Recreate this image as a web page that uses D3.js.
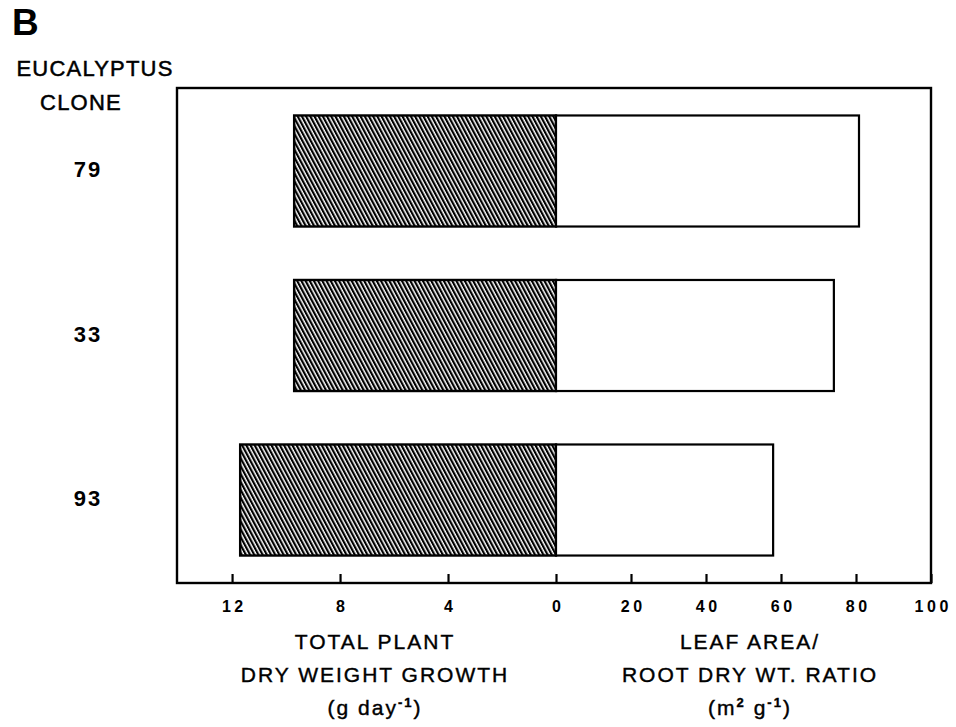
<!DOCTYPE html>
<html><head><meta charset="utf-8">
<script src="https://cdn.jsdelivr.net/npm/d3@7"></script>
<style>
body{margin:0;background:#fff;}
text{font-family:"Liberation Sans",Arial,sans-serif;fill:#000;}
</style></head>
<body><svg id="c" width="956" height="727"></svg>
<script>
const clones = ["79", "33", "93"];
const growth = [9.7, 9.7, 11.7];        // g day-1 (left, hatched)
const ratio = [80.8, 74.1, 57.9];       // m2 g-1 (right, open)
const leftTicks = [12, 8, 4, 0];
const rightTicks = [20, 40, 60, 80, 100];

const svg = d3.select("#c");
const yTop = 88, yBottom = 583;
const xL = d3.scaleLinear().domain([0, 14.04]).range([556, 177]);
const xR = d3.scaleLinear().domain([0, 100]).range([556, 931]);
const y = d3.scaleBand().domain(clones).range([yTop, yBottom]).paddingInner(0.325).paddingOuter(0.167);

const defs = svg.append("defs");
const pat = defs.append("pattern").attr("id", "hatch").attr("patternUnits", "userSpaceOnUse")
  .attr("width", 3.7).attr("height", 10).attr("patternTransform", "rotate(-28)");
pat.append("rect").attr("width", 3.7).attr("height", 10).attr("fill", "#fff");
pat.append("rect").attr("x", 0).attr("width", 2.2).attr("height", 10).attr("fill", "#000");

// bars
const g = svg.append("g");
g.selectAll(".lb").data(clones).join("rect")
  .attr("x", (d, i) => xL(growth[i])).attr("y", d => y(d))
  .attr("width", (d, i) => xL(0) - xL(growth[i])).attr("height", y.bandwidth())
  .attr("fill", "url(#hatch)").attr("stroke", "#000").attr("stroke-width", 2.4);
g.selectAll(".rb").data(clones).join("rect")
  .attr("x", xR(0)).attr("y", d => y(d))
  .attr("width", (d, i) => xR(ratio[i]) - xR(0)).attr("height", y.bandwidth())
  .attr("fill", "#fff").attr("stroke", "#000").attr("stroke-width", 2.2);

// frame
svg.append("rect").attr("x", xL(14.04)).attr("y", yTop)
  .attr("width", xR(100) - xL(14.04)).attr("height", yBottom - yTop)
  .attr("fill", "none").attr("stroke", "#000").attr("stroke-width", 2.4);

// axes
function styleAxis(sel) {
  sel.select(".domain").remove();
  sel.selectAll(".tick line").attr("stroke", "#000").attr("stroke-width", 2.2);
  sel.selectAll(".tick text").style("font-size", "16px").style("font-weight", "bold")
    .style("letter-spacing", "3.5px").attr("dx", "1.7px").attr("fill", "#000");
}
svg.append("g").attr("transform", `translate(0,${yBottom})`)
  .call(d3.axisBottom(xL).tickValues(leftTicks).tickFormat(d3.format("d")).tickSize(-9).tickPadding(18))
  .call(styleAxis);
svg.append("g").attr("transform", `translate(0,${yBottom})`)
  .call(d3.axisBottom(xR).tickValues(rightTicks).tickFormat(d3.format("d")).tickSize(-9).tickPadding(18))
  .call(styleAxis);

// category labels
svg.selectAll(".cl").data(clones).join("text")
  .attr("x", 88).attr("y", d => y(d) + y.bandwidth() / 2 + 6)
  .attr("text-anchor", "middle").style("font-size", "22px").style("font-weight", "bold")
  .style("letter-spacing", "2px").text(d => d);

svg.append("text").attr("x", 12).attr("y", 35).style("font-size", "37px").style("font-weight", "bold").text("B");
svg.append("text").attr("x", 95).attr("y", 76).attr("text-anchor", "middle")
  .attr("stroke", "#000").attr("stroke-width", 0.5)
  .style("font-size", "22px").style("letter-spacing", "1.2px").text("EUCALYPTUS");
svg.append("text").attr("x", 81).attr("y", 110).attr("text-anchor", "middle")
  .attr("stroke", "#000").attr("stroke-width", 0.5)
  .style("font-size", "22px").style("letter-spacing", "1.2px").text("CLONE");

// bottom titles
function title(cx, lines) {
  lines.forEach((ln, i) => {
    const t = svg.append("text").attr("x", cx).attr("y", 649 + i * 33).attr("text-anchor", "middle")
      .attr("stroke", "#000").attr("stroke-width", 0.4)
      .style("font-size", "21px").style("letter-spacing", "2px");
    ln.forEach(p => {
      const ts = t.append("tspan").text(p[0]);
      if (p[1] === "sup") ts.attr("dy", -8).style("font-size", "13px").style("font-weight", "bold");
      if (p[1] === "base") ts.attr("dy", 8);
    });
  });
}
title(375, [[["TOTAL PLANT"]], [["DRY WEIGHT GROWTH"]], [["(g day"], ["-1", "sup"], [")", "base"]]]);
title(750, [[["LEAF AREA/"]], [["ROOT DRY WT. RATIO"]], [["(m"], ["2", "sup"], [" g", "base"], ["-1", "sup"], [")", "base"]]]);
</script></body></html>
